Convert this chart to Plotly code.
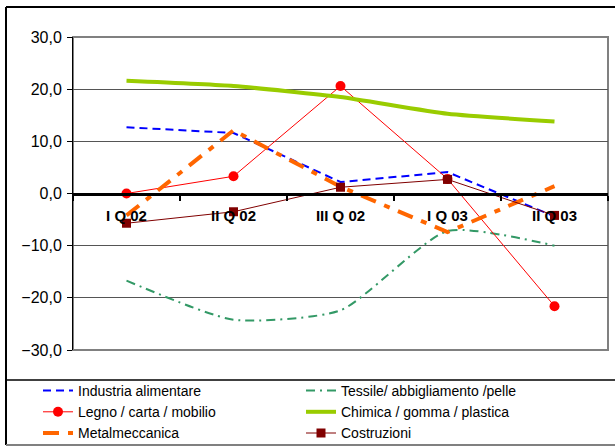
import plotly.graph_objects as go

# Quarterly data (percent change)
quarters = ["I Q 02", "II Q 02", "III Q 02", "I Q 03", "II Q 03"]

industria_alimentare = [12.7, 11.6, 2.2, 4.1, -4.4]
tessile_abbigliamento = [-16.7, -24.2, -22.4, -7.2, -10.0]
legno_carta_mobilio = [0.0, 3.3, 20.6, 2.8, -21.6]
chimica_gomma_plastica = [21.6, 20.6, 18.5, 15.3, 13.8]
metalmeccanica = [-4.2, 12.1, 1.3, -7.4, 1.4]
costruzioni = [-5.7, -3.5, 1.2, 2.7, -4.2]

y_ticks = [-30, -20, -10, 0, 10, 20, 30]

W, H = 615, 446
ML, MR, MT, MB = 73, 7, 37, 96
PW, PH = W - ML - MR, H - MT - MB


def px_x(px):
    return (px - ML) / PW


def px_y(py):
    return (H - MB - py) / PH


FONT = "Liberation Sans, Arial, sans-serif"

fig = go.Figure()

fig.add_trace(go.Scatter(
    x=quarters, y=industria_alimentare, name="Industria alimentare",
    mode="lines", line=dict(color="#0000FF", width=2, dash="8px,5px"),
))
fig.add_trace(go.Scatter(
    x=quarters, y=tessile_abbigliamento, name="Tessile/ abbigliamento /pelle",
    mode="lines", line=dict(color="#339966", width=2, dash="9px,5px,2px,5px",
                            shape="spline", smoothing=0.6),
))
fig.add_trace(go.Scatter(
    x=quarters, y=legno_carta_mobilio, name="Legno / carta / mobilio",
    mode="lines+markers", line=dict(color="#FF0000", width=1),
    marker=dict(symbol="circle", size=10, color="#FF0000"),
))
fig.add_trace(go.Scatter(
    x=quarters, y=chimica_gomma_plastica, name="Chimica / gomma / plastica",
    mode="lines", line=dict(color="#99CC00", width=4, shape="spline", smoothing=0.5),
))
fig.add_trace(go.Scatter(
    x=quarters, y=metalmeccanica, name="Metalmeccanica",
    mode="lines", line=dict(color="#FF6600", width=4, dash="16px,9px,6px,9px"),
))
fig.add_trace(go.Scatter(
    x=quarters, y=costruzioni, name="Costruzioni",
    mode="lines+markers", line=dict(color="#800000", width=1),
    marker=dict(symbol="square", size=9, color="#800000"),
))

shapes = [
    # plot-area frame (grey)
    dict(type="rect", xref="paper", yref="paper", x0=0, x1=1, y0=0, y1=1,
         line=dict(color="#808080", width=2), layer="below"),
    # outer chart frame
    dict(type="line", xref="paper", yref="paper", x0=px_x(6), x1=px_x(6),
         y0=px_y(7), y1=px_y(445), line=dict(color="#000000", width=2)),
    dict(type="line", xref="paper", yref="paper", x0=px_x(6), x1=px_x(616),
         y0=px_y(7), y1=px_y(7), line=dict(color="#000000", width=2)),
    dict(type="line", xref="paper", yref="paper", x0=px_x(6), x1=px_x(616),
         y0=px_y(445), y1=px_y(445), line=dict(color="#808080", width=2)),
    # legend box top edge
    dict(type="line", xref="paper", yref="paper", x0=px_x(6), x1=px_x(616),
         y0=px_y(380), y1=px_y(380), line=dict(color="#000000", width=1.5)),
]

fig.update_layout(
    width=W, height=H,
    margin=dict(l=ML, r=MR, t=MT, b=MB, pad=0, autoexpand=False),
    paper_bgcolor="white", plot_bgcolor="white",
    separators=",.",
    font=dict(family=FONT, color="black"),
    shapes=shapes,
    showlegend=True,
    legend=dict(
        orientation="h", x=px_x(38), xanchor="left", y=px_y(375), yanchor="top",
        entrywidth=218, entrywidthmode="pixels",
        font=dict(family=FONT, size=14, color="black"),
        bgcolor="rgba(0,0,0,0)",
        tracegroupgap=0,
    ),
    xaxis=dict(
        type="category", range=[-0.5, 4.5],
        anchor="free", position=0.5,
        showline=True, linecolor="black", linewidth=3,
        ticks="outside", tickson="boundaries", ticklen=5, tickwidth=2, tickcolor="black",
        tickfont=dict(family=FONT, size=15, color="black", weight="bold"),
        ticklabelstandoff=7,
        showgrid=False, zeroline=False,
    ),
    yaxis=dict(
        range=[-30, 30], tickvals=y_ticks, tickformat=".1f",
        showline=True, linecolor="black", linewidth=1,
        ticks="outside", ticklen=5, tickcolor="black",
        tickfont=dict(family=FONT, size=16, color="black"),
        ticklabelstandoff=2,
        showgrid=True, gridcolor="#555555", gridwidth=1,
        zeroline=False,
    ),
)

fig.write_html("out.html")
